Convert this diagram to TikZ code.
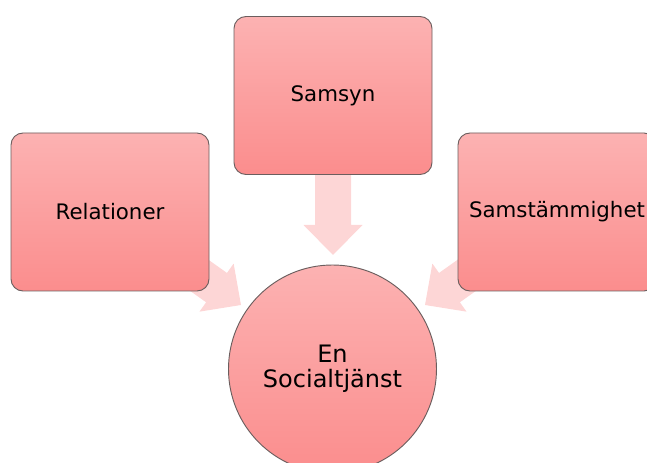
\documentclass[tikz,border=0pt]{standalone}
\usepackage{fontspec}
\setmainfont{DejaVu Sans}
\definecolor{rose top}{rgb}{0.988, 0.698, 0.698}
\definecolor{rose bottom}{rgb}{0.984, 0.553, 0.553}
\definecolor{rose pale}{rgb}{0.992, 0.839, 0.839}
\definecolor{rose edge}{rgb}{0.42, 0.37, 0.37}

\begin{document}
\begin{tikzpicture}[x=0.75pt, y=-0.75pt,
		topic/.style={draw=rose edge, line width=0.7pt, rounded corners=9pt,
			top color=rose top, bottom color=rose bottom,
			minimum width=148.5pt, minimum height=118.5pt, inner sep=0pt,
			font=\fontsize{16}{19}\selectfont},
		hub/.style={draw=rose edge, line width=0.7pt, circle,
			top color=rose top, bottom color=rose bottom,
			minimum size=156pt, inner sep=0pt, align=center,
			font=\fontsize{18}{18.75}\selectfont}]
		\useasboundingbox (0, 0) rectangle (647, 463);
		\clip (0, 0) rectangle (647, 463);
		% block arrows, drawn first so the boxes sit on top
		\foreach \tipx/\tipy/\turn in {333/255/-90, 241/305/-35.4, 425/305/-144.6}
		{
			\begin{scope}[shift={(\tipx, \tipy)}, rotate=\turn]
				\fill[rose pale] (0, 0) -- (-30, -29.5) -- (-30, -18) -- (-80, -18)
					-- (-80, 18) -- (-30, 18) -- (-30, 29.5) -- cycle;
			\end{scope}
		}
		% the three boxes
		\node[topic] (samsyn) at (333, 95.5) {Samsyn};
		\node[topic] (relationer) at (110, 212) {Relationer};
		\node[topic] (samstammighet) at (557, 212) {Samstämmighet};
		% centre
		\node[hub] (socialtjanst) at (332.5, 369) {En\\Socialtjänst};
	\end{tikzpicture}
\end{document}
